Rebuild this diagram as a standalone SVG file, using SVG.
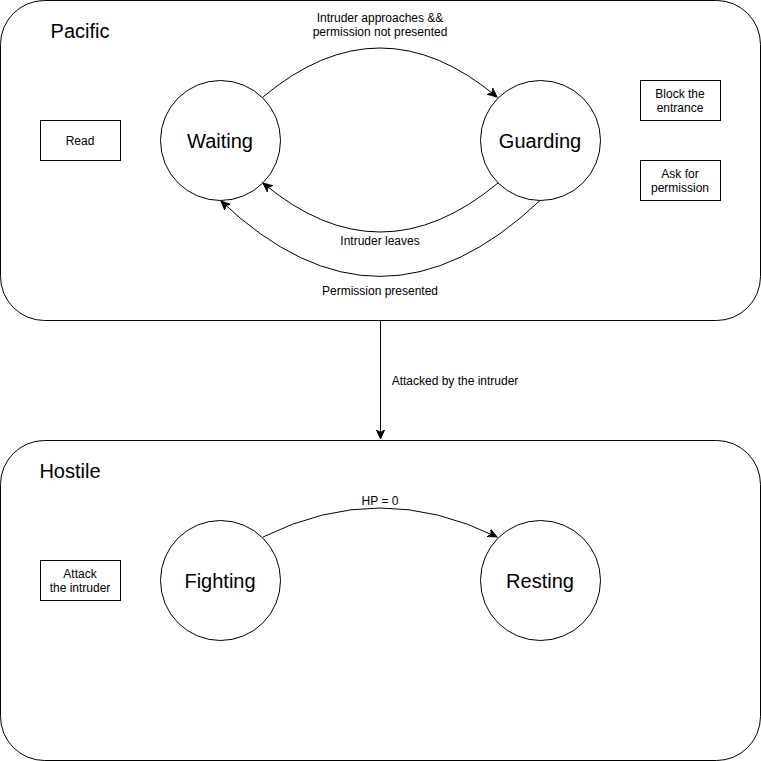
<svg xmlns="http://www.w3.org/2000/svg" width="761" height="761" viewBox="0 0 761 761">
<style>
.c{fill:#fff;stroke:#000;stroke-width:1}
.e{fill:none;stroke:#000;stroke-width:1}
text{font-family:"Liberation Sans",Arial,sans-serif;fill:#000}
.big{font-size:20px;text-anchor:middle;dominant-baseline:central}
.t{font-size:20px}
.s{font-size:12px;text-anchor:middle;dominant-baseline:central}
</style>
<defs>
<marker id="arr" viewBox="0 0 10 10" refX="9" refY="5" markerWidth="10" markerHeight="10" markerUnits="userSpaceOnUse" orient="auto">
<path d="M0,1 L9,5 L0,9 L2.5,5 Z" fill="#000" stroke="#000" stroke-width="1"/>
</marker>
</defs>
<rect width="761" height="761" fill="#fff"/>
<g id="pacific">
<rect class="c" x="0.5" y="0.5" width="760" height="320" rx="44"/>
<text class="t" x="80" y="38" text-anchor="middle">Pacific</text>
</g>
<g id="hostile">
<rect class="c" x="0.5" y="440.5" width="760" height="320" rx="44"/>
<text class="t" x="70" y="478" text-anchor="middle">Hostile</text>
</g>
<g id="waiting"><circle class="c" cx="220.5" cy="140.5" r="60"/><text class="big" x="220" y="141">Waiting</text></g>
<g id="guarding"><circle class="c" cx="540.5" cy="140.5" r="60"/><text class="big" x="540" y="141">Guarding</text></g>
<g id="fighting"><circle class="c" cx="220.5" cy="580.5" r="60"/><text class="big" x="220" y="581">Fighting</text></g>
<g id="resting"><circle class="c" cx="540.5" cy="580.5" r="60"/><text class="big" x="540" y="581">Resting</text></g>
<g id="read"><rect class="c" x="40.5" y="120.5" width="80" height="40"/><text class="s" x="80" y="141">Read</text></g>
<g id="block"><rect class="c" x="640.5" y="80.5" width="80" height="40"/><text class="s" x="680" y="94">Block the</text><text class="s" x="680" y="108">entrance</text></g>
<g id="ask"><rect class="c" x="640.5" y="160.5" width="80" height="40"/><text class="s" x="680" y="174">Ask for</text><text class="s" x="680" y="188">permission</text></g>
<g id="attack"><rect class="c" x="40.5" y="560.5" width="80" height="40"/><text class="s" x="80" y="574">Attack</text><text class="s" x="80" y="588">the intruder</text></g>
<g id="connectors">
<path class="e" d="M263,97 Q380,-1 497,97" marker-end="url(#arr)"/>
<path class="e" d="M498,183 Q380,281 263,183" marker-end="url(#arr)"/>
<path class="e" d="M540,200.5 Q380,352 221,201" marker-end="url(#arr)"/>
<path class="e" d="M263,537 Q380,479 497,537" marker-end="url(#arr)"/>
<path class="e" d="M380.5,320.5 L380.5,439" marker-end="url(#arr)"/>
<text class="s" x="380" y="18">Intruder approaches &amp;&amp;</text>
<text class="s" x="380" y="32">permission not presented</text>
<text class="s" x="380" y="241">Intruder leaves</text>
<text class="s" x="380" y="291">Permission presented</text>
<text class="s" x="455" y="381">Attacked by the intruder</text>
<text class="s" x="380" y="501">HP = 0</text>
</g>
</svg>
